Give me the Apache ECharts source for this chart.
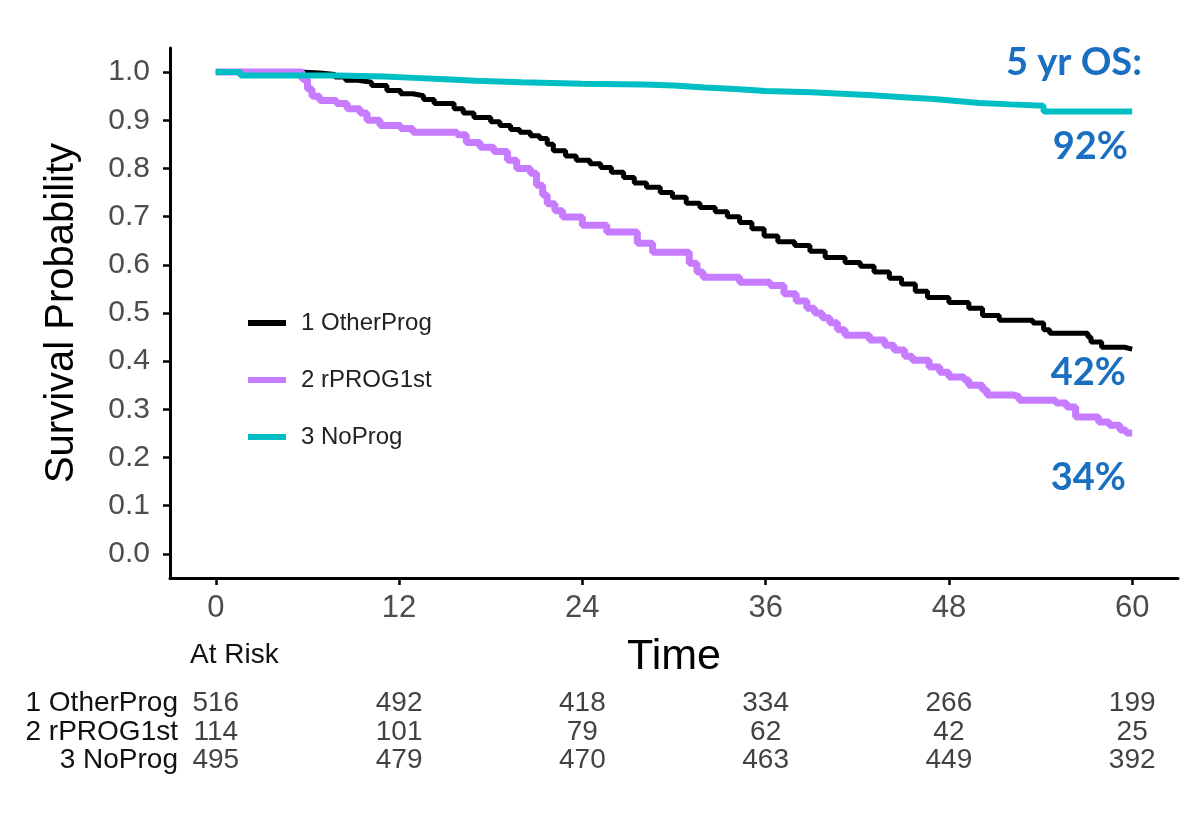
<!DOCTYPE html>
<html>
<head>
<meta charset="utf-8">
<script src="https://cdn.jsdelivr.net/npm/echarts@6/dist/echarts.min.js"></script>
<style>
  html, body { margin: 0; padding: 0; background: #fff; }
  #chart { width: 1200px; height: 815px; }
</style>
</head>
<body>
<div id="chart"></div>
<script>
// survival curves, [month, probability]
const otherProg = [
  [0, 1.0], [5.5, 0.998], [6.8, 0.995], [7.8, 0.99], [8.5, 0.983], [9.3, 0.979], [10.2, 0.972],
  [11.2, 0.962], [12.1, 0.955], [12.9, 0.951], [13.6, 0.943], [14.3, 0.935], [15.6, 0.924],
  [16.2, 0.915], [16.9, 0.906], [18.0, 0.897], [18.6, 0.889], [19.3, 0.881], [19.9, 0.875],
  [20.6, 0.868], [21.2, 0.862], [21.7, 0.85], [22.1, 0.837], [22.9, 0.826], [23.6, 0.817],
  [24.5, 0.81], [25.2, 0.802], [25.9, 0.792], [26.7, 0.781], [27.4, 0.77], [28.2, 0.761],
  [29.1, 0.75], [29.9, 0.74], [30.8, 0.728], [31.7, 0.719], [32.7, 0.71], [33.5, 0.70],
  [34.3, 0.688], [35.1, 0.675], [35.9, 0.66], [36.8, 0.648], [37.9, 0.64], [38.9, 0.628],
  [39.9, 0.615], [41.2, 0.605], [42.2, 0.597], [43.1, 0.585], [44.1, 0.572], [44.9, 0.56],
  [45.8, 0.545], [46.6, 0.532], [48.0, 0.522], [49.3, 0.51], [50.2, 0.495], [51.3, 0.485],
  [53.5, 0.479], [54.2, 0.465], [54.6, 0.458], [57.1, 0.45], [57.3, 0.44], [58.0, 0.429],
  [59.5, 0.425], [60, 0.425]
];
const rProg1st = [
  [0, 1.0], [5.66, 0.985], [6.0, 0.965], [6.3, 0.95], [6.8, 0.941], [7.9, 0.935], [8.6, 0.924],
  [9.45, 0.915], [9.9, 0.90], [10.75, 0.889], [12.1, 0.883], [12.9, 0.875], [15.8, 0.87],
  [16.4, 0.854], [17.3, 0.844], [18.2, 0.835], [19.1, 0.817], [19.7, 0.80], [20.6, 0.79],
  [21.0, 0.765], [21.4, 0.745], [21.7, 0.727], [22.2, 0.712], [22.7, 0.699], [24.0, 0.682],
  [25.6, 0.668], [27.6, 0.645], [28.6, 0.626], [31.0, 0.603], [31.5, 0.585], [31.9, 0.574],
  [34.3, 0.564], [36.3, 0.557], [37.2, 0.54], [38.0, 0.525], [38.7, 0.51], [39.2, 0.50],
  [39.7, 0.49], [40.2, 0.48], [40.7, 0.465], [41.2, 0.454], [42.8, 0.444], [43.8, 0.433],
  [44.4, 0.423], [45.1, 0.41], [45.6, 0.402], [46.7, 0.388], [47.4, 0.377], [48.0, 0.367],
  [49.0, 0.361], [49.3, 0.35], [50.2, 0.34], [50.5, 0.33], [52.2, 0.326], [52.6, 0.319],
  [55.0, 0.313], [55.7, 0.305], [56.3, 0.284], [57.8, 0.274], [58.5, 0.267], [59.2, 0.257],
  [59.6, 0.251], [60, 0.251]
];
const noProg = [
  [0, 1.0], [1.6, 0.993], [8, 0.991], [11, 0.988], [13, 0.985], [15, 0.982], [17, 0.979],
  [20, 0.976], [24, 0.974], [28, 0.972], [30, 0.968], [32, 0.965], [34, 0.961], [36, 0.958],
  [39, 0.955], [41, 0.952], [43, 0.948], [45, 0.944], [47, 0.94], [48.5, 0.936], [50, 0.933],
  [52, 0.93], [54.2, 0.918], [60, 0.918]
];

const groups = ['1 OtherProg', '2 rPROG1st', '3 NoProg'];
const riskTimes = [0, 12, 24, 36, 48, 60];
const atRisk = [
  [516, 492, 418, 334, 266, 199],
  [114, 101, 79, 62, 42, 25],
  [495, 479, 470, 463, 449, 392]
];
const yTicks = [0, 0.1, 0.2, 0.3, 0.4, 0.5, 0.6, 0.7, 0.8, 0.9, 1.0];
const osLabels = ['92%', '42%', '34%'];

const sans = '"Liberation Sans", Arial, sans-serif';
const blue = '#1a6fc1';

let myChart = echarts.init(document.getElementById('chart'));

let riskData = [];
atRisk.forEach((row, i) => {
  row.forEach((n, j) => {
    riskData.push([riskTimes[j], groups[i], n]);
  });
});

const option = {
  animation: false,
  backgroundColor: '#fff',
  grid: [
    { left: 170, right: 22, top: 48, bottom: 237 },
    { left: 170, right: 22, top: 689, height: 86 }
  ],
  legend: {
    data: groups,
    orient: 'vertical',
    left: 243,
    top: 305,
    icon: 'rect',
    itemWidth: 38,
    itemHeight: 6,
    itemGap: 31,
    selectedMode: false,
    textStyle: {
      fontFamily: sans,
      fontSize: 24,
      lineHeight: 26,
      color: '#222',
      padding: [0, 0, 0, 10]
    }
  },
  xAxis: [
    {
      type: 'value',
      gridIndex: 0,
      min: -3,
      max: 63,
      name: 'Time',
      nameLocation: 'middle',
      nameGap: 58,
      nameTextStyle: { fontFamily: sans, fontSize: 43, color: '#000' },
      axisLine: { onZero: false, lineStyle: { color: '#000', width: 3 } },
      axisTick: { show: true, length: 7, lineStyle: { color: '#000', width: 2.5 }, customValues: riskTimes },
      axisLabel: {
        customValues: riskTimes,
        margin: 15,
        fontFamily: sans,
        fontSize: 31,
        color: '#4d4d4d'
      },
      splitLine: { show: false }
    },
    {
      type: 'value',
      gridIndex: 1,
      min: -3,
      max: 63,
      show: false
    }
  ],
  yAxis: [
    {
      type: 'value',
      gridIndex: 0,
      min: -0.05,
      max: 1.05,
      name: 'Survival Probability',
      nameLocation: 'middle',
      nameGap: 88,
      nameTextStyle: { fontFamily: sans, fontSize: 40, color: '#000' },
      axisLine: { show: true, onZero: false, lineStyle: { color: '#000', width: 3 } },
      axisTick: { show: true, length: 7, lineStyle: { color: '#000', width: 2.5 }, customValues: yTicks },
      axisLabel: {
        customValues: yTicks,
        formatter: v => v.toFixed(1),
        margin: 20,
        fontFamily: sans,
        fontSize: 30,
        color: '#4d4d4d'
      },
      splitLine: { show: false }
    },
    {
      type: 'category',
      gridIndex: 1,
      data: groups,
      inverse: true,
      axisLine: { show: false },
      axisTick: { show: false },
      axisLabel: {
        interval: 0,
        margin: -8,
        fontFamily: sans,
        fontSize: 28,
        color: '#111'
      }
    }
  ],
  graphic: [
    { type: 'text', left: 190, top: 641, style: { text: 'At Risk', font: '28px ' + sans, fill: '#111' } },
    { type: 'text', right: 58, top: 44, style: { text: '5 yr OS:', font: 'bold 38px Lato, "Open Sans", sans-serif', fill: blue } },
    { type: 'text', right: 72, top: 128, style: { text: osLabels[0], font: 'bold 38px Lato, "Open Sans", sans-serif', fill: blue } },
    { type: 'text', right: 74, top: 354, style: { text: osLabels[1], font: 'bold 38px Lato, "Open Sans", sans-serif', fill: blue } },
    { type: 'text', right: 74, top: 459, style: { text: osLabels[2], font: 'bold 38px Lato, "Open Sans", sans-serif', fill: blue } }
  ],
  series: [
    {
      name: groups[0],
      type: 'line',
      step: 'end',
      symbol: 'none',
      data: otherProg,
      color: '#000000',
      lineStyle: { width: 5, color: '#000000' },
      z: 2
    },
    {
      name: groups[1],
      type: 'line',
      step: 'end',
      symbol: 'none',
      data: rProg1st,
      color: '#c77cff',
      lineStyle: { width: 7, color: '#c77cff' },
      z: 3
    },
    {
      name: groups[2],
      type: 'line',
      step: 'end',
      symbol: 'none',
      data: noProg,
      color: '#00bfc4',
      lineStyle: { width: 6, color: '#00bfc4' },
      z: 4
    },
    {
      name: 'atRisk',
      type: 'scatter',
      xAxisIndex: 1,
      yAxisIndex: 1,
      data: riskData,
      symbolSize: 1,
      itemStyle: { color: 'rgba(0,0,0,0)' },
      label: {
        show: true,
        position: 'inside',
        formatter: p => p.value[2],
        fontFamily: sans,
        fontSize: 28,
        color: '#111'
      }
    }
  ]
};

myChart.setOption(option);
</script>
</body>
</html>
